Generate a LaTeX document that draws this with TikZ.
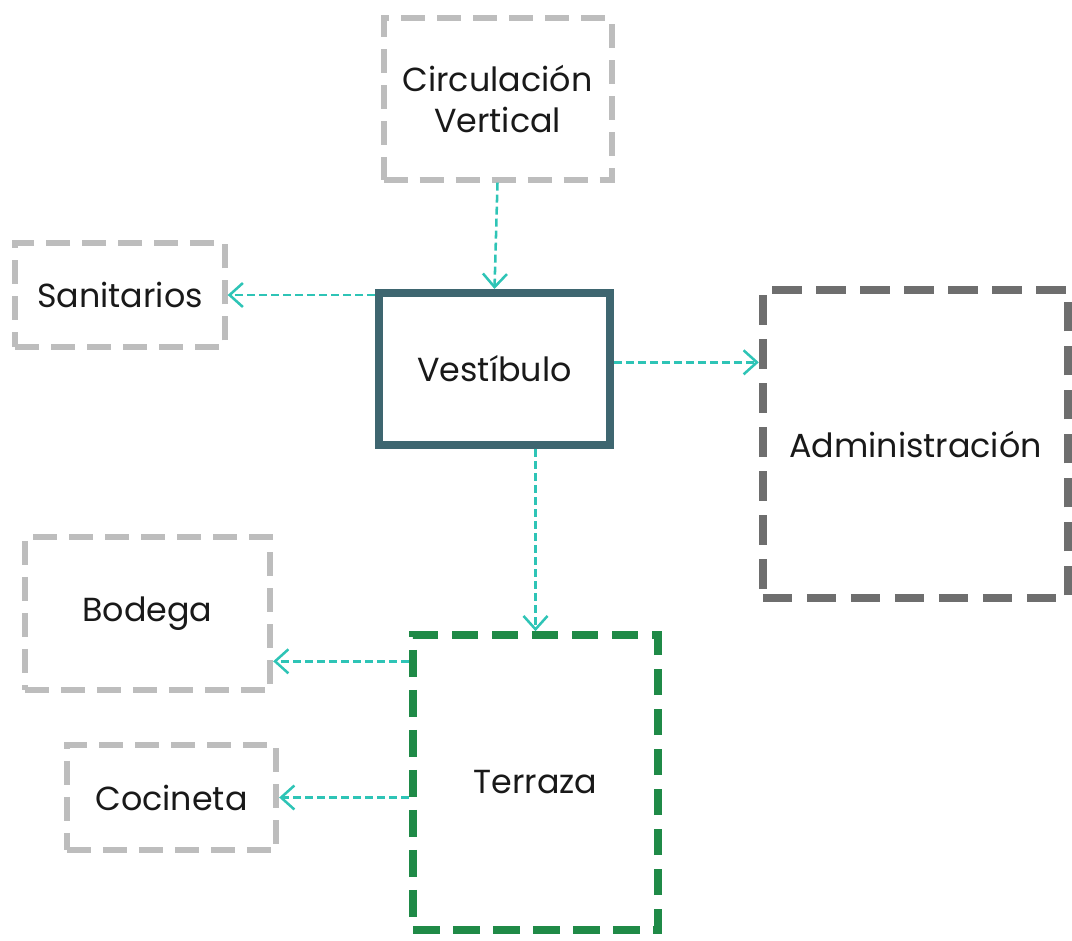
\documentclass[tikz,border=0pt]{standalone}
\usepackage{fontspec}
\setmainfont{Poppins}
\usetikzlibrary{arrows.meta,calc}

\definecolor{grisclaro}{HTML}{BDBDBD}
\definecolor{grisoscuro}{HTML}{6E6E6E}
\definecolor{azulpetroleo}{HTML}{3E6670}
\definecolor{verdeterraza}{HTML}{1F8A47}
\definecolor{turquesa}{HTML}{2EC4B6}

\tikzset{
  espacio/.style={draw=grisclaro,line width=4.5pt,dash pattern=on 18pt off 9pt,
    rectangle,align=center,font=\fontsize{25}{31}\selectfont,text=black!90},
  flujo/.style={draw=turquesa,line width=1.9pt,dash pattern=on 6pt off 3pt,
    -{Straight Barb[length=10pt,width=18pt,line width=1.9pt]}}
}

\begin{document}
\begin{tikzpicture}[x=0.75pt,y=-0.75pt]
    \useasboundingbox (0,0) rectangle (1072,940);

    \node[espacio,minimum width=171pt,minimum height=121pt](circ) at (497.5,99){Circulación\\Vertical};
    \node[espacio,minimum width=157pt,minimum height=78pt](san) at (120,295){Sanitarios};
    \node[espacio,draw=azulpetroleo,solid,line width=6pt,minimum width=173pt,minimum height=114pt](vest) at (494.5,369){Vestíbulo};
    \node[espacio,draw=grisoscuro,line width=6pt,dash pattern=on 22pt off 11pt,minimum width=229pt,minimum height=231pt](admin) at (915.5,444){Administración};
    \node[espacio,minimum width=184pt,minimum height=115pt](bod) at (147.5,613.5){Bodega};
    \node[espacio,draw=verdeterraza,line width=6pt,dash pattern=on 20pt off 10pt,minimum width=184pt,minimum height=221pt](terr) at (535.5,782.5){Terraza};
    \node[espacio,minimum width=157pt,minimum height=79pt](coc) at (171.5,797.5){Cocineta};

    \coordinate (bodin) at ($(bod.south east)!0.2!(bod.north east)$);
    \coordinate (admin-in) at ([yshift=5pt]vest.east);

    \draw[flujo] (circ.south) -- (vest.north);
    \draw[flujo] (san.east -| vest.west) -- (san.east);
    \draw[flujo] (admin-in) -- (admin-in -| admin.west);
    \draw[flujo] (terr.north |- vest.south) -- (terr.north);
    \draw[flujo] (terr.west |- bodin) -- (bodin);
    \draw[flujo] (terr.west |- coc.east) -- (coc.east);
\end{tikzpicture}
\end{document}
